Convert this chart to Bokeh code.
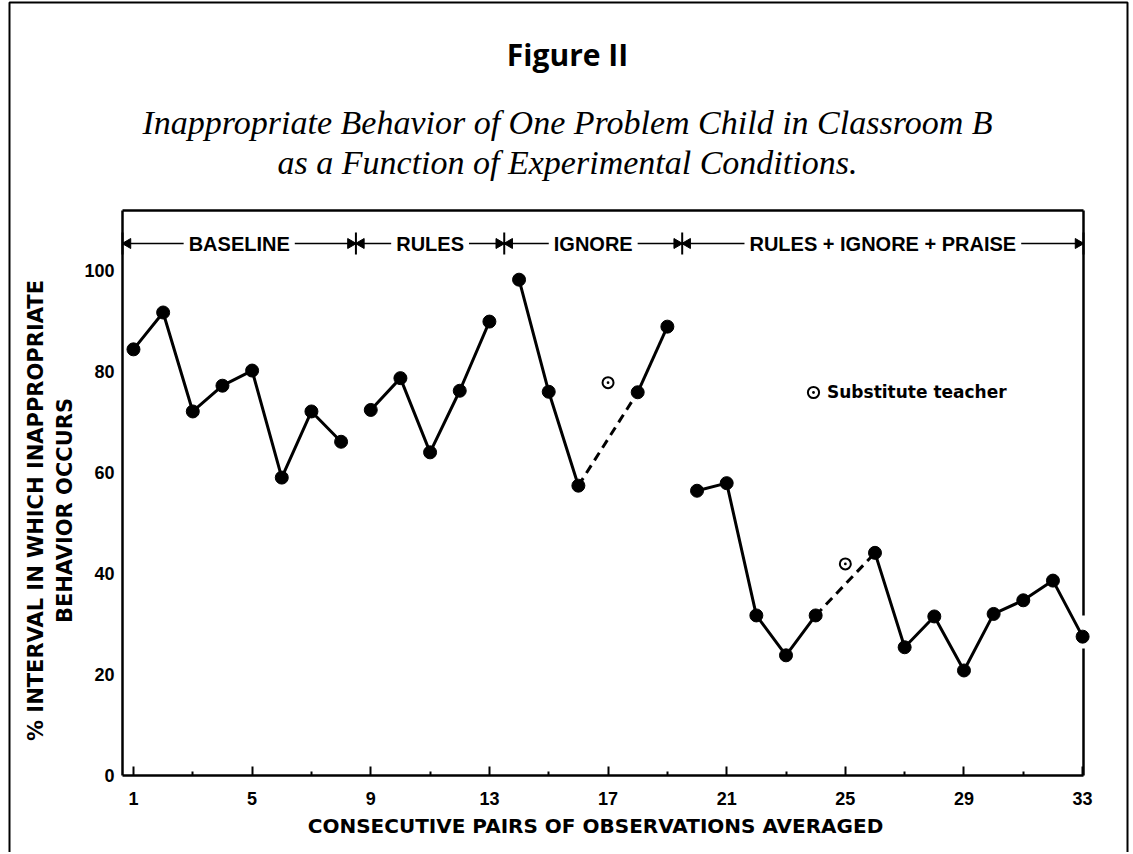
import math
from bokeh.plotting import figure
from bokeh.models import Range1d, FixedTicker, Label, Legend, LegendItem
from bokeh.core.properties import value
from bokeh.embed import file_html
from bokeh.resources import INLINE

# ---------------- data ----------------
sessions = list(range(1, 34))
behavior = [84.4, 91.7, 72.1, 77.2, 80.2, 59.0, 72.1, 66.1,          # baseline 1-8
            72.4, 78.7, 64.0, 76.2, 89.9,                              # rules 9-13
            98.2, 76.0, 57.4, None, 75.9, 88.9,                        # ignore 14-19
            56.4, 57.9, 31.7, 23.8, 31.7, None, 44.1, 25.4, 31.5,      # rules+ignore+praise 20-33
            20.8, 32.0, 34.7, 38.6, 27.5]
substitute_x = [17, 25]
substitute_y = [77.8, 41.9]
phase_names = ["BASELINE", "RULES", "IGNORE", "RULES + IGNORE + PRAISE"]
phase_first = [1, 9, 14, 20]
phase_last = [8, 13, 19, 33]
x_ticks = [1, 5, 9, 13, 17, 21, 25, 29, 33]
x_minor = [3, 7, 11, 15, 19, 23, 27, 31]
y_ticks = [0, 20, 40, 60, 80, 100]

# ---------------- layout (page pixels) ----------------
W, H = 1131, 852
PL, PR, PT, PB = 122, 1083, 210, 775          # plot box on the page
XA, XB = 0.63, 33.03                          # data range of the plot box
YA, YB = 0.0, 111.9
sx = (XB - XA) / (PR - PL)
sy = (YB - YA) / (PB - PT)

def fx(px):  # page pixel -> data x
    return XA + (px - PL) * sx

def fy(py):  # page pixel -> data y
    return YA + (PB - py) * sy

p = figure(width=W, height=H, x_range=Range1d(fx(0), fx(W)), y_range=Range1d(fy(H), fy(0)),
           output_backend="svg", toolbar_location=None,
           min_border=0, min_border_left=0, min_border_right=0, min_border_top=0, min_border_bottom=0)
p.background_fill_color = "white"
p.border_fill_color = "white"
p.grid.visible = False
p.outline_line_color = None

TICK_FONT = "Liberation Sans"
xa = p.xaxis[0]
xa.fixed_location = YA
xa.bounds = (XA, XB)
xa.ticker = FixedTicker(ticks=x_ticks, minor_ticks=x_minor)
xa.axis_line_width = 2.5
xa.major_tick_in = 9
xa.major_tick_out = 0
xa.minor_tick_in = 4
xa.minor_tick_out = 0
xa.major_tick_line_width = 2
xa.minor_tick_line_width = 2
xa.major_label_standoff = 16
xa.major_label_text_font = TICK_FONT
xa.major_label_text_font_style = "bold"
xa.major_label_text_font_size = "18px"
xa.major_label_text_color = "black"

ya = p.yaxis[0]
ya.fixed_location = XA
ya.bounds = (YA, YB)
ya.ticker = FixedTicker(ticks=y_ticks, minor_ticks=[])
ya.axis_line_width = 2.5
ya.major_tick_in = 0
ya.major_tick_out = 0
ya.minor_tick_in = 0
ya.minor_tick_out = 0
ya.major_label_standoff = 8
ya.major_label_text_font = TICK_FONT
ya.major_label_text_font_style = "bold"
ya.major_label_text_font_size = "18px"
ya.major_label_text_color = "black"

# top and right sides of the plot box (right side broken around the last point)
p.segment(x0=[XA, XB, XB], y0=[YB, YB, fy(648)], x1=[XB, XB, XB], y1=[YB, fy(615), YA],
          line_width=2.5, line_color="black")

# ---------------- phase header ----------------
hy = fy(243)
bounds = [XA] + [(phase_last[i] + phase_first[i + 1]) / 2 for i in range(len(phase_names) - 1)] + [XB]
centers = [(bounds[i] + bounds[i + 1]) / 2 for i in range(len(phase_names))]
p.segment(x0=bounds[:-1], x1=bounds[1:], y0=[hy] * 4, y1=[hy] * 4, line_width=1.6, line_color="black")
p.segment(x0=bounds, x1=bounds, y0=[hy - 2.2] * 5, y1=[hy + 2.2] * 5, line_width=2, line_color="black")
d = 0.18
p.scatter(x=[b - d for b in bounds[1:]], y=[hy] * 4, marker="triangle", size=10,
          angle=-math.pi / 2, color="black")
p.scatter(x=[b + d for b in bounds[:-1]], y=[hy] * 4, marker="triangle", size=10,
          angle=math.pi / 2, color="black")
p.text(x=centers, y=[hy] * 4, text=phase_names, text_align="center", text_baseline="middle",
       text_font=value("Liberation Sans"), text_font_style="bold", text_font_size="20px",
       text_color="black", background_fill_color="white", padding=5)

# ---------------- data lines ----------------
solid_xs, solid_ys, dash_xs, dash_ys = [], [], [], []
for a, b in zip(phase_first, phase_last):
    pts = [(s, behavior[s - 1]) for s in range(a, b + 1) if behavior[s - 1] is not None]
    run = [pts[0]]
    for prev, cur in zip(pts[:-1], pts[1:]):
        if cur[0] == prev[0] + 1:
            run.append(cur)
        else:
            if len(run) > 1:
                solid_xs.append([q[0] for q in run]); solid_ys.append([q[1] for q in run])
            dash_xs.append([prev[0], cur[0]]); dash_ys.append([prev[1], cur[1]])
            run = [cur]
    if len(run) > 1:
        solid_xs.append([q[0] for q in run]); solid_ys.append([q[1] for q in run])

p.multi_line(xs=solid_xs, ys=solid_ys, line_width=3, line_color="black", line_join="round")
p.multi_line(xs=dash_xs, ys=dash_ys, line_width=3, line_color="black", line_dash="9 6")
px_ = [s for s, v in zip(sessions, behavior) if v is not None]
py_ = [v for v in behavior if v is not None]
p.scatter(x=px_, y=py_, marker="circle", size=13, color="black")
sub = p.scatter(x=substitute_x, y=substitute_y, marker="circle_dot", size=11,
                fill_color="white", line_color="black", line_width=2)

legend = Legend(items=[LegendItem(label="Substitute teacher", renderers=[sub])],
                location=(813 - 14, H - 392 - 14), glyph_width=28, glyph_height=28, label_standoff=0,
                padding=0, margin=0, border_line_color=None, background_fill_alpha=0,
                label_text_font="DejaVu Sans", label_text_font_style="bold",
                label_text_font_size="17px", label_text_color="black")
p.add_layout(legend, "center")

# ---------------- texts around the plot box ----------------
def lab(x, y, text, font, size, style="normal", angle=0.0):
    p.add_layout(Label(x=x, y=y, text=text, text_font=font, text_font_size=size,
                       text_font_style=style, text_align="center", text_baseline="middle",
                       angle=angle, text_color="black"))

lab(fx(567), fy(54), "Figure II", "Open Sans", "30px", "bold")
lab(fx(567), fy(122), "Inappropriate Behavior of One Problem Child in Classroom B",
    "Liberation Serif", "34px", "italic")
lab(fx(567), fy(162), "as a Function of Experimental Conditions.", "Liberation Serif", "34px", "italic")
lab(fx(35), fy(510), "% INTERVAL IN WHICH INAPPROPRIATE", "DejaVu Sans", "21px", "bold", math.pi / 2)
lab(fx(64), fy(510), "BEHAVIOR OCCURS", "DejaVu Sans", "21px", "bold", math.pi / 2)
lab(fx(595), fy(825), "CONSECUTIVE PAIRS OF OBSERVATIONS AVERAGED", "DejaVu Sans", "20px", "bold")

# ---------------- page frame (open at the bottom) ----------------
p.line(x=[fx(9), fx(9), fx(1127), fx(1127)], y=[fy(H + 5), fy(2), fy(2), fy(H + 5)],
       line_width=2, line_color="black")

open("out.html", "w").write(file_html(p, INLINE))
